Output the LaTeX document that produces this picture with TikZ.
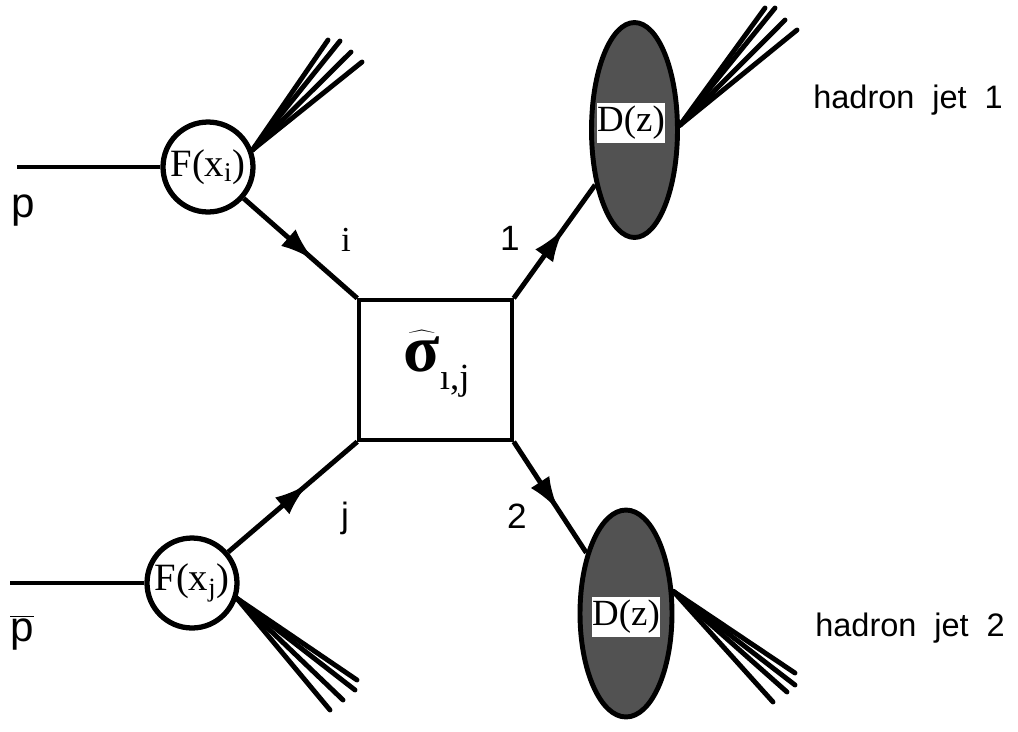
\documentclass[tikz,border=0pt]{standalone}
\usepackage{fontspec}
\setmainfont{Liberation Serif}
\setsansfont{Liberation Sans}
\usetikzlibrary{shapes.geometric,arrows.meta,decorations.markings}
\tikzset{
  thickline/.style={line width=2.8pt},
  midarrow/.style={thickline, postaction={decorate},
    decoration={markings, mark=at position 0.62 with {\arrow{Latex[length=0.68cm,width=0.44cm]}}}},
  pdfnode/.style={circle, draw, line width=3pt, minimum size=1.8cm, inner sep=0pt,
    font=\fontsize{22}{24}\selectfont},
  fragnode/.style={ellipse, draw, line width=2.8pt, fill=black!68, inner sep=0pt},
  dzbox/.style={fill=white, inner sep=0pt, minimum width=1.34cm, minimum height=0.8cm,
    font=\fontsize{21}{24}\selectfont},
  jetline/.style={line width=2.8pt, line cap=round},
  sublabel/.style={font=\sffamily\fontsize{20}{24}\selectfont},
  jetlabel/.style={font=\sffamily\fontsize{18.5}{22}\selectfont, inner sep=0pt},
  beamlabel/.style={font=\sffamily\fontsize{24}{28}\selectfont, inner sep=0pt}
}
\begin{document}
\begin{tikzpicture}[x=0.02cm,y=-0.02cm]
\useasboundingbox (0,0) rectangle (1018,731);

% hard scattering box
\node[draw, line width=2pt, minimum width=3.06cm, minimum height=2.8cm, inner sep=0pt] (box) at (435.5,370) {};
\node[inner sep=0pt] (sig) at (437,364)
  {$\widehat{\mbox{\fontsize{38}{40}\selectfont\bfseries σ}}_{\mbox{\fontsize{21}{24}\selectfont ı,j}}$};

% parton distributions
\node[pdfnode] (Fi) at (208,167) {F(x\textsubscript{i})};
\node[pdfnode] (Fj) at (192,583) {F(x$_{\mbox{\fontsize{15}{17}\selectfont j}}$)};

% fragmentation ellipses
\node[fragnode, minimum width=1.72cm, minimum height=4.3cm] (D1) at (634.5,130) {};
\node[fragnode, minimum width=1.84cm, minimum height=4.14cm] (D2) at (626,613.5) {};
\node[dzbox] (dz1) at (631,123) {D(z)};
\node[dzbox] (dz2) at (626,617) {D(z)};

% beams
\coordinate (pin) at (17,167);
\coordinate (pbarin) at (10,583);
\draw[thickline] (pin) -- (Fi);
\draw[thickline] (pbarin) -- (Fj);
\node[beamlabel] (plab) at (23,211) {p};
\node[beamlabel] (pbarlab) at (22,633) {$\overline{\mbox{\sffamily\fontsize{24}{28}\selectfont p}}$};

% partons
\draw[midarrow] (Fi) -- (box.north west);
\draw[midarrow] (Fj) -- (box.south west);
\draw[midarrow] (box.north east) -- (D1);
\draw[midarrow] (box.south east) -- (D2);

\node[font=\fontsize{20}{24}\selectfont] (ilab) at (346,240) {i};
\node[sublabel] (jlab) at (345,518) {j};
\node[sublabel] (lab1) at (510,238) {1};
\node[sublabel] (lab2) at (517,516) {2};

% jets
\coordinate (ji) at (Fi.21);
\foreach \p in {(328,40),(340,41),(351,52),(362,62)} \draw[jetline] (ji) -- \p;
\coordinate (jj) at (Fj.-19);
\foreach \p in {(357,680),(355,690),(343,700),(330,710)} \draw[jetline] (jj) -- \p;
\coordinate (j1) at (D1.6);
\foreach \p in {(765,8),(775,8),(785,20),(797,30)} \draw[jetline] (j1) -- \p;
\coordinate (j2) at (D2.25);
\foreach \p in {(795,673),(795,685),(787,692),(773,702)} \draw[jetline] (j2) -- \p;

% jet labels
\node[jetlabel, anchor=east] (h1) at (1003,100) {hadron\hspace{0.55em}jet\hspace{0.55em}1};
\node[jetlabel, anchor=east] (h2) at (1005,628) {hadron\hspace{0.55em}jet\hspace{0.55em}2};
\end{tikzpicture}
\end{document}
